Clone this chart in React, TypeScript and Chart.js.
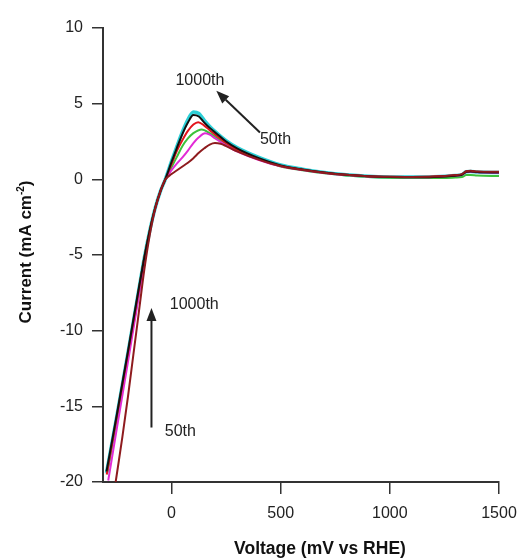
import React, { useEffect, useRef } from "react";
import { Chart, registerables } from "chart.js";

Chart.register(...registerables);

// ---- data (mV vs RHE, mA cm^-2) ----
const xTickValues = [0, 500, 1000, 1500];
const yTickStep = 5;

const vBlack = [-298, -250, -200, -150, -125, -100, -75, -50, -30, 0, 25, 50, 75, 100, 125, 150, 175, 200, 250, 300, 400, 500, 600, 700, 800, 900, 1000, 1100, 1200, 1300, 1330, 1350, 1370, 1400, 1500];
const iBlack = [-19.3, -15.5, -11.4, -7.2, -5.2, -3.4, -1.9, -0.75, -0.05, 1.15, 2.1, 3.0, 3.75, 4.25, 4.15, 3.75, 3.4, 3.1, 2.5, 2.05, 1.4, 0.92, 0.65, 0.45, 0.3, 0.2, 0.15, 0.14, 0.16, 0.24, 0.3, 0.5, 0.52, 0.48, 0.45];

const vCyan = [-298, -250, -200, -150, -125, -100, -75, -50, -30, 0, 25, 50, 75, 100, 125, 150, 175, 200, 250, 300, 400, 500, 600, 700, 800, 900, 1000, 1100, 1200, 1300, 1330, 1350, 1370, 1400, 1500];
const iCyan = [-19.4, -15.6, -11.5, -7.3, -5.2, -3.4, -1.9, -0.75, -0.05, 1.2, 2.2, 3.15, 3.95, 4.45, 4.35, 3.9, 3.5, 3.15, 2.55, 2.1, 1.45, 0.95, 0.67, 0.46, 0.31, 0.21, 0.16, 0.15, 0.17, 0.25, 0.31, 0.5, 0.52, 0.48, 0.45];

const vRed = [-297, -250, -200, -150, -125, -100, -75, -50, -30, 0, 25, 50, 75, 100, 122, 150, 175, 200, 250, 300, 400, 500, 600, 700, 800, 900, 1000, 1100, 1200, 1300, 1330, 1350, 1370, 1400, 1500];
const iRed = [-19.5, -15.6, -11.5, -7.3, -5.2, -3.4, -1.9, -0.75, -0.05, 1.0, 1.9, 2.6, 3.2, 3.62, 3.78, 3.55, 3.25, 2.95, 2.4, 1.95, 1.32, 0.88, 0.63, 0.44, 0.3, 0.21, 0.17, 0.16, 0.18, 0.27, 0.33, 0.52, 0.55, 0.5, 0.48];

const vGreen = [-296, -250, -200, -150, -125, -100, -75, -50, -30, 0, 25, 50, 75, 100, 138, 175, 200, 250, 300, 400, 500, 600, 700, 800, 900, 1000, 1100, 1200, 1300, 1330, 1350, 1370, 1400, 1500];
const iGreen = [-19.5, -15.7, -11.6, -7.3, -5.2, -3.4, -1.9, -0.75, -0.05, 0.8, 1.5, 2.2, 2.7, 3.05, 3.3, 3.05, 2.8, 2.3, 1.9, 1.3, 0.85, 0.6, 0.4, 0.26, 0.16, 0.1, 0.08, 0.08, 0.12, 0.15, 0.28, 0.28, 0.25, 0.22];

const vMagenta = [-290, -250, -200, -150, -125, -100, -75, -50, -30, 0, 25, 50, 75, 100, 125, 153, 175, 200, 250, 300, 400, 500, 600, 700, 800, 900, 1000, 1100, 1200, 1300, 1330, 1350, 1370, 1400, 1500];
const iMagenta = [-19.9, -16.4, -12.1, -7.7, -5.5, -3.5, -1.95, -0.75, -0.05, 0.6, 1.05, 1.45, 1.9, 2.4, 2.78, 3.05, 2.95, 2.7, 2.25, 1.85, 1.28, 0.86, 0.61, 0.42, 0.28, 0.19, 0.15, 0.14, 0.16, 0.25, 0.3, 0.48, 0.5, 0.46, 0.44];

const vDarkRed = [-256, -225, -200, -175, -150, -125, -100, -75, -50, -30, 0, 25, 50, 75, 100, 125, 150, 175, 199, 225, 250, 300, 400, 500, 600, 700, 800, 900, 1000, 1100, 1200, 1300, 1330, 1350, 1370, 1400, 1500];
const iDarkRed = [-20.0, -17.0, -14.4, -11.6, -8.8, -6.0, -3.7, -1.95, -0.75, -0.05, 0.35, 0.6, 0.85, 1.1, 1.4, 1.75, 2.05, 2.3, 2.4, 2.35, 2.2, 1.85, 1.3, 0.88, 0.63, 0.44, 0.3, 0.21, 0.17, 0.16, 0.18, 0.28, 0.34, 0.53, 0.56, 0.52, 0.5];

const seriesNames = ["cyan", "black", "red", "green", "magenta", "darkred"];

// annotation anchors in data units
const upperLabelTop = { v: 130, i: 6.5, text: "1000th" };
const upperLabelBottom = { v: 405, i: 2.6, text: "50th" };
const upperArrow = { v0: 405, i0: 3.1, v1: 205, i1: 5.85 };
const lowerLabelTop = { v: -8, i: -8.3, text: "1000th" };
const lowerLabelBottom = { v: -31, i: -16.7, text: "50th" };
const lowerArrow = { v0: -92, i0: -16.4, v1: -92, i1: -8.5 };

function pts(v: number[], i: number[]) {
  return v.map((x, k) => ({ x, y: i[k] }));
}

const annotationPlugin = {
  id: "annotations",
  afterDraw(chart: any) {
    const { ctx } = chart;
    const xs = chart.scales.x;
    const ys = chart.scales.y;
    const px = (v: number) => xs.getPixelForValue(v);
    const py = (i: number) => ys.getPixelForValue(i);
    ctx.save();
    ctx.fillStyle = "#222";
    ctx.strokeStyle = "#222";
    ctx.font = "16px 'Liberation Sans', Arial, sans-serif";
    ctx.textBaseline = "middle";
    ctx.textAlign = "center";
    ctx.fillText(upperLabelTop.text, px(upperLabelTop.v), py(upperLabelTop.i));
    ctx.textAlign = "left";
    ctx.fillText(upperLabelBottom.text, px(upperLabelBottom.v), py(upperLabelBottom.i));
    ctx.fillText(lowerLabelTop.text, px(lowerLabelTop.v), py(lowerLabelTop.i));
    ctx.fillText(lowerLabelBottom.text, px(lowerLabelBottom.v), py(lowerLabelBottom.i));

    const arrow = (a: { v0: number; i0: number; v1: number; i1: number }) => {
      const x0 = px(a.v0), y0 = py(a.i0), x1 = px(a.v1), y1 = py(a.i1);
      const ang = Math.atan2(y1 - y0, x1 - x0);
      const hl = 13, hw = 5;
      const bx = x1 - hl * Math.cos(ang), by = y1 - hl * Math.sin(ang);
      ctx.lineWidth = 2;
      ctx.beginPath();
      ctx.moveTo(x0, y0);
      ctx.lineTo(bx, by);
      ctx.stroke();
      ctx.beginPath();
      ctx.moveTo(x1, y1);
      ctx.lineTo(bx + hw * Math.sin(ang), by - hw * Math.cos(ang));
      ctx.lineTo(bx - hw * Math.sin(ang), by + hw * Math.cos(ang));
      ctx.closePath();
      ctx.fill();
    };
    arrow(upperArrow);
    arrow(lowerArrow);

    // axis titles
    ctx.fillStyle = "#111";
    ctx.font = "bold 17.5px 'Liberation Sans', Arial, sans-serif";
    ctx.textAlign = "center";
    ctx.textBaseline = "alphabetic";
    ctx.fillText("Voltage (mV vs RHE)", 320, 554);

    ctx.translate(31, 252);
    ctx.rotate(-Math.PI / 2);
    const main = "Current (mA cm";
    const sup = "-2";
    const tail = ")";
    const fMain = "bold 17px 'Liberation Sans', Arial, sans-serif";
    const fSup = "bold 10px 'Liberation Sans', Arial, sans-serif";
    ctx.font = fMain;
    const wMain = ctx.measureText(main).width;
    const wTail = ctx.measureText(tail).width;
    ctx.font = fSup;
    const wSup = ctx.measureText(sup).width;
    const total = wMain + wSup + wTail;
    let x = -total / 2;
    ctx.textAlign = "left";
    ctx.font = fMain;
    ctx.fillText(main, x, 0);
    x += wMain;
    ctx.font = fSup;
    ctx.fillText(sup, x, -7);
    x += wSup;
    ctx.font = fMain;
    ctx.fillText(tail, x, 0);
    ctx.restore();
  },
};

export default function App() {
  const ref = useRef<HTMLCanvasElement | null>(null);
  useEffect(() => {
    if (!ref.current) return;
    const mk = (label: string, color: string, v: number[], i: number[], w = 2) => ({
      label,
      data: pts(v, i),
      borderColor: color,
      backgroundColor: color,
      borderWidth: w,
      pointRadius: 0,
      fill: false,
      tension: 0.4,
      cubicInterpolationMode: "monotone" as const,
    });
    const datasets = [
      mk(seriesNames[5], "#8e1b1e", vDarkRed, iDarkRed),
      mk(seriesNames[1], "#111111", vBlack, iBlack),
      mk(seriesNames[2], "#e3141c", vRed, iRed),
      mk(seriesNames[4], "#e22ad6", vMagenta, iMagenta),
      mk(seriesNames[3], "#3cc23c", vGreen, iGreen),
      mk(seriesNames[0], "#2ccfd6", vCyan, iCyan, 3.5),
    ];
    const chart = new Chart(ref.current, {
      type: "line",
      data: { datasets },
      plugins: [annotationPlugin],
      options: {
        animation: false,
        responsive: true,
        maintainAspectRatio: false,
        layout: { padding: { left: 0, top: 28, right: 23, bottom: 0 } },
        plugins: { legend: { display: false }, tooltip: { enabled: false } },
        scales: {
          x: {
            type: "linear",
            min: -314,
            max: 1500,
            afterFit: (s: any) => { s.height = 76; s.paddingRight = 0; },
            afterBuildTicks: (s: any) => { s.ticks = xTickValues.map((value) => ({ value })); },
            grid: { drawOnChartArea: false, drawTicks: true, tickLength: 12, color: "#333", lineWidth: 1.5 },
            border: { display: true, color: "#333", width: 2 },
            ticks: {
              color: "#222",
              padding: 10,
              maxRotation: 0,
              callback: (v: any) => String(v),
              font: { family: "'Liberation Sans', Arial, sans-serif", size: 16 },
            },
            title: { display: false },
          },
          y: {
            type: "linear",
            min: -20,
            max: 10,
            afterFit: (s: any) => { s.width = 103; },
            grid: { drawOnChartArea: false, drawTicks: true, tickLength: 11, color: "#333", lineWidth: 1.5 },
            border: { display: true, color: "#333", width: 2 },
            ticks: {
              stepSize: yTickStep,
              color: "#222",
              padding: 9,
              font: { family: "'Liberation Sans', Arial, sans-serif", size: 16 },
            },
            title: { display: false },
          },
        },
      },
    });
    return () => chart.destroy();
  }, []);
  return (
    <div style={{ position: "absolute", left: 0, top: 0, width: 522, height: 558, background: "#fff" }}>
      <canvas ref={ref} />
    </div>
  );
}
